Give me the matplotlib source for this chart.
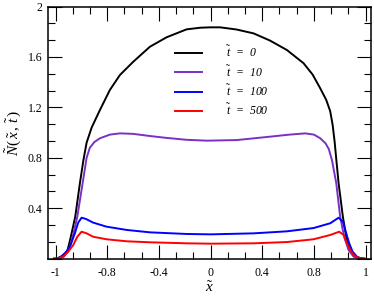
import matplotlib
matplotlib.use("Agg")
import matplotlib.pyplot as plt
from matplotlib.ticker import AutoMinorLocator, FixedLocator

plt.rcParams['font.family'] = ['Liberation Serif', 'DejaVu Serif']
plt.rcParams['mathtext.fontset'] = 'custom'
plt.rcParams['mathtext.rm'] = 'Liberation Serif'
plt.rcParams['mathtext.it'] = 'Liberation Serif:italic'

# --- curves ---
x_t0 = [-1.21, -1.197, -1.146, -1.107, -1.082, -1.048, -1.012, -0.985, -0.96, -0.921,
        -0.857, -0.78, -0.702, -0.599, -0.47, -0.341, -0.186, -0.08, 0.0, 0.074,
        0.2, 0.333, 0.46, 0.591, 0.72, 0.79, 0.849, 0.895, 0.926, 0.945, 0.96,
        0.972, 0.991, 1.024, 1.05, 1.081, 1.12, 1.171, 1.19]
y_t0 = [0.0, 0.0, 0.016, 0.069, 0.174, 0.333, 0.598, 0.78, 0.92, 1.04,
        1.179, 1.338, 1.457, 1.562, 1.681, 1.756, 1.819, 1.832, 1.835, 1.835,
        1.818, 1.787, 1.73, 1.655, 1.55, 1.46, 1.351, 1.26, 1.17, 1.06, 0.93,
        0.80, 0.598, 0.333, 0.174, 0.069, 0.016, 0.0, 0.0]

x_t10 = [-1.21, -1.192, -1.136, -1.097, -1.068, -1.032, -0.991, -0.96, -0.935, -0.90,
         -0.857, -0.78, -0.702, -0.599, -0.47, -0.341, -0.186, -0.029, 0.204, 0.462,
         0.6, 0.733, 0.8, 0.849, 0.89, 0.915, 0.94, 0.973, 1.003, 1.034, 1.068,
         1.107, 1.158, 1.19]
y_t10 = [0.0, 0.0, 0.016, 0.069, 0.174, 0.333, 0.598, 0.80, 0.88, 0.925,
         0.955, 0.984, 0.994, 0.99, 0.973, 0.958, 0.943, 0.936, 0.941, 0.968,
         0.983, 0.994, 0.984, 0.955, 0.915, 0.87, 0.78, 0.598, 0.333, 0.174, 0.069,
         0.016, 0.0, 0.0]

x_t100 = [-1.21, -1.19, -1.153, -1.115, -1.084, -1.051, -1.025, -0.999, -0.965, -0.909,
          -0.806, -0.65, -0.47, -0.186, 0.0, 0.333, 0.591, 0.797, 0.926, 0.991,
          1.024, 1.05, 1.073, 1.099, 1.133, 1.17, 1.19]
y_t100 = [0.0, 0.0, 0.021, 0.056, 0.109, 0.201, 0.286, 0.325, 0.315, 0.286,
          0.254, 0.228, 0.209, 0.196, 0.193, 0.201, 0.217, 0.243, 0.281, 0.325,
          0.293, 0.201, 0.122, 0.056, 0.016, 0.0, 0.0]

x_t500 = [-1.21, -1.192, -1.141, -1.102, -1.063, -1.032, -0.999, -0.96, -0.909, -0.806,
          -0.65, -0.47, -0.186, 0.0, 0.333, 0.591, 0.797, 0.926, 0.996, 1.03,
          1.055, 1.081, 1.107, 1.15, 1.19]
y_t500 = [0.0, 0.0, 0.016, 0.056, 0.109, 0.174, 0.214, 0.201, 0.174, 0.154,
          0.138, 0.13, 0.122, 0.119, 0.122, 0.132, 0.154, 0.188, 0.214, 0.188,
          0.122, 0.069, 0.029, 0.005, 0.0]

series = [
    (x_t0, y_t0, '#000000', r'$\tilde{t}$  =  0'),
    (x_t10, y_t10, '#7a30c4', r'$\tilde{t}$  =  10'),
    (x_t100, y_t100, '#0000ff', r'$\tilde{t}$  =  100'),
    (x_t500, y_t500, '#ff0000', r'$\tilde{t}$  =  500'),
]

xtick_pos = [-1.2, -0.8, -0.4, 0.0, 0.4, 0.8, 1.2]
xtick_lab = ['-1', '-0.8', '-0.4', '0', '0.4', '0.8', '1']
ytick_pos = [0.0, 0.4, 0.8, 1.2, 1.6, 2.0]
ytick_lab = ['', '0.4', '0.8', '1.2', '1.6', '2']

fig = plt.figure(figsize=(3.74, 2.97), dpi=100)
ax = fig.add_axes([0.129, 0.129, 0.862, 0.849])

for xs, ys, c, lab in series:
    ax.plot(xs, ys, color=c, lw=1.4, label=lab)

ax.set_xlim(-1.257, 1.239)
ax.set_ylim(0, 2)
ax.xaxis.set_major_locator(FixedLocator(xtick_pos))
ax.set_xticklabels(xtick_lab)
ax.yaxis.set_major_locator(FixedLocator(ytick_pos))
ax.set_yticklabels(ytick_lab)
ax.xaxis.set_minor_locator(AutoMinorLocator(3))
ax.yaxis.set_minor_locator(AutoMinorLocator(3))
ax.tick_params(which='both', direction='in', top=True, right=True, width=0.8, labelsize=8.5)
ax.tick_params(which='major', length=10)
ax.tick_params(which='minor', length=5)
ax.tick_params(axis='x', pad=6)
ax.tick_params(axis='y', pad=4)
for s in ax.spines.values():
    s.set_linewidth(1.1)

ax.set_xlabel(r'$\tilde{x}$', fontsize=11, va='center')
ax.xaxis.set_label_coords(0.5, -0.116)
ax.set_ylabel(r'$\tilde{N}(\,\tilde{x}\,,\,\tilde{t}\,)$', fontsize=11, va='center')
ax.yaxis.set_label_coords(-0.106, 0.5)

leg = ax.legend(loc='upper left', bbox_to_anchor=(0.378, 0.866), frameon=False,
                handlelength=2.3, handletextpad=2.0, labelspacing=0.34,
                borderaxespad=0, prop={'style': 'italic', 'size': 8.5})

fig.savefig('out.png', dpi=100)
